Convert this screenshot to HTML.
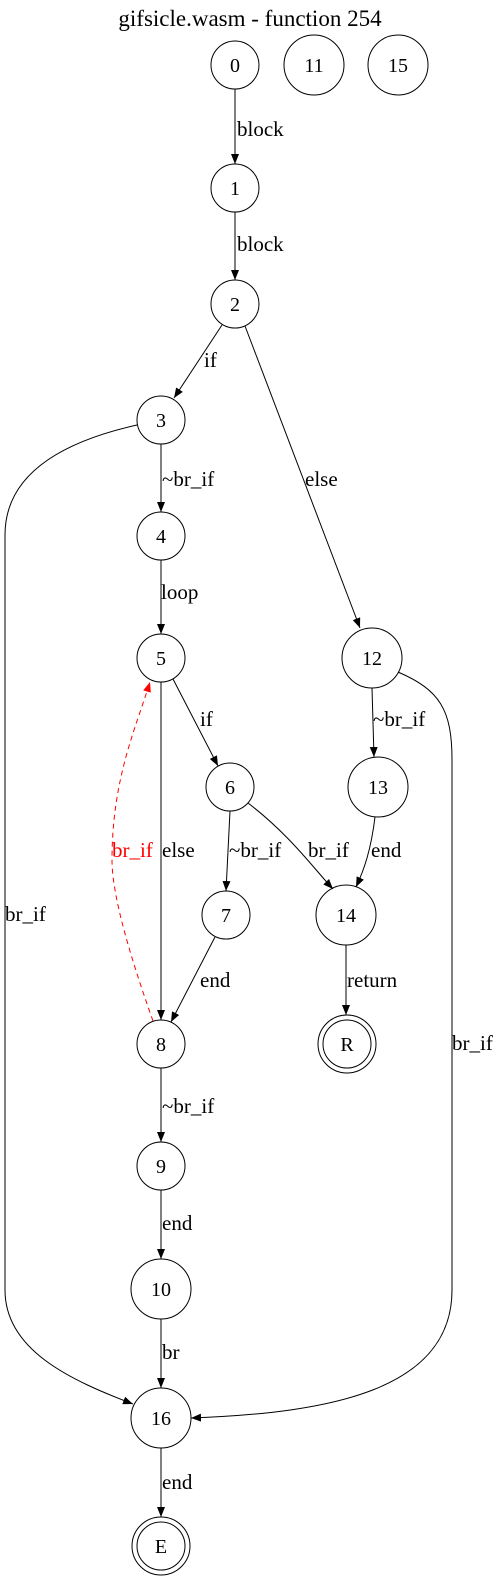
<!DOCTYPE html>
<html><head><meta charset="utf-8"><style>
html,body{margin:0;padding:0;background:#fff;}
svg{display:block;font-family:"Liberation Serif",serif;}
</style></head><body>
<svg width="501" height="1579" viewBox="0 0 501 1579" xmlns="http://www.w3.org/2000/svg">
<defs>
<marker id="a" markerWidth="10" markerHeight="8" refX="10" refY="4" orient="auto" markerUnits="userSpaceOnUse"><path d="M0,0 L10,4 L0,8 z" fill="#000"/></marker>
<marker id="r" markerWidth="10" markerHeight="8" refX="10" refY="4" orient="auto" markerUnits="userSpaceOnUse"><path d="M0,0 L10,4 L0,8 z" fill="red"/></marker>
</defs>
<text x="250" y="26" font-size="23" text-anchor="middle">gifsicle.wasm - function 254</text>
<g fill="none" stroke="#000" stroke-width="1">
<circle cx="235" cy="65" r="24"/><circle cx="314" cy="65" r="30"/><circle cx="398" cy="65" r="30"/>
<circle cx="235" cy="188" r="24"/><circle cx="235" cy="304" r="24"/>
<circle cx="161" cy="420" r="24"/><circle cx="161" cy="536" r="24"/><circle cx="161" cy="658" r="24"/>
<circle cx="230" cy="787" r="24"/><circle cx="226" cy="915" r="24"/><circle cx="161" cy="1044" r="24"/>
<circle cx="161" cy="1166" r="24"/><circle cx="161" cy="1289" r="30"/><circle cx="161" cy="1418" r="30"/>
<circle cx="161" cy="1546" r="29"/><circle cx="161" cy="1546" r="24"/>
<circle cx="372" cy="658" r="30"/><circle cx="378" cy="787" r="30"/><circle cx="346" cy="915" r="30"/>
<circle cx="347" cy="1044" r="29"/><circle cx="347" cy="1044" r="24"/>
</g>
<g font-size="20" text-anchor="middle">
<text x="235" y="72">0</text><text x="314" y="72">11</text><text x="398" y="72">15</text>
<text x="235" y="195">1</text><text x="235" y="311">2</text><text x="161" y="427">3</text>
<text x="161" y="543">4</text><text x="161" y="665">5</text><text x="230" y="794">6</text>
<text x="226" y="922">7</text><text x="161" y="1051">8</text><text x="161" y="1173">9</text>
<text x="161" y="1296">10</text><text x="161" y="1425">16</text><text x="161" y="1553">E</text>
<text x="372" y="665">12</text><text x="378" y="794">13</text><text x="346" y="922">14</text>
<text x="347" y="1051">R</text>
</g>
<g fill="none" stroke="#000" stroke-width="1">
<path d="M235,89 L235,164" marker-end="url(#a)"/>
<path d="M235,212 L235,280" marker-end="url(#a)"/>
<path d="M222,325 L174,398" marker-end="url(#a)"/>
<path d="M245,326 L360,628" marker-end="url(#a)"/>
<path d="M161,444 L161,512" marker-end="url(#a)"/>
<path d="M161,560 L161,634" marker-end="url(#a)"/>
<path d="M173,679 L218,766" marker-end="url(#a)"/>
<path d="M161,682 L161,1020" marker-end="url(#a)"/>
<path d="M230,811 L226,891" marker-end="url(#a)"/>
<path d="M248,803 C290,835 315,870 333,889" marker-end="url(#a)"/>
<path d="M372,688 L374,757" marker-end="url(#a)"/>
<path d="M375,817 C371,850 364,870 356,887" marker-end="url(#a)"/>
<path d="M346,945 L346,1015" marker-end="url(#a)"/>
<path d="M215,937 L171,1022" marker-end="url(#a)"/>
<path d="M161,1068 L161,1142" marker-end="url(#a)"/>
<path d="M161,1190 L161,1259" marker-end="url(#a)"/>
<path d="M161,1319 L161,1388" marker-end="url(#a)"/>
<path d="M161,1448 L161,1517" marker-end="url(#a)"/>
<path d="M137,425 C70,440 5,470 5,535 L5,1290 C5,1350 70,1380 133,1404" marker-end="url(#a)"/>
<path d="M398,672 C440,690 452,710 452,760 L452,1290 C452,1390 330,1413 191,1418" marker-end="url(#a)"/>
<path d="M153,1021 C135,970 112,900 112,860 C112,780 135,730 150,682" stroke="red" stroke-dasharray="5,4" marker-end="url(#r)"/>
</g>
<g font-size="21">
<text x="237" y="136">block</text><text x="237" y="251">block</text>
<text x="204" y="367">if</text><text x="305" y="486">else</text>
<text x="162" y="486">~br_if</text><text x="161" y="599">loop</text>
<text x="200" y="726">if</text><text x="373" y="726">~br_if</text>
<text x="112" y="857" fill="red">br_if</text><text x="162" y="857">else</text>
<text x="229" y="857">~br_if</text><text x="308" y="857">br_if</text><text x="371" y="857">end</text>
<text x="200" y="987">end</text><text x="347" y="987">return</text>
<text x="452" y="1050">br_if</text><text x="5" y="921">br_if</text>
<text x="162" y="1113">~br_if</text><text x="162" y="1230">end</text>
<text x="162" y="1359">br</text><text x="162" y="1489">end</text>
</g>
</svg>
</body></html>
